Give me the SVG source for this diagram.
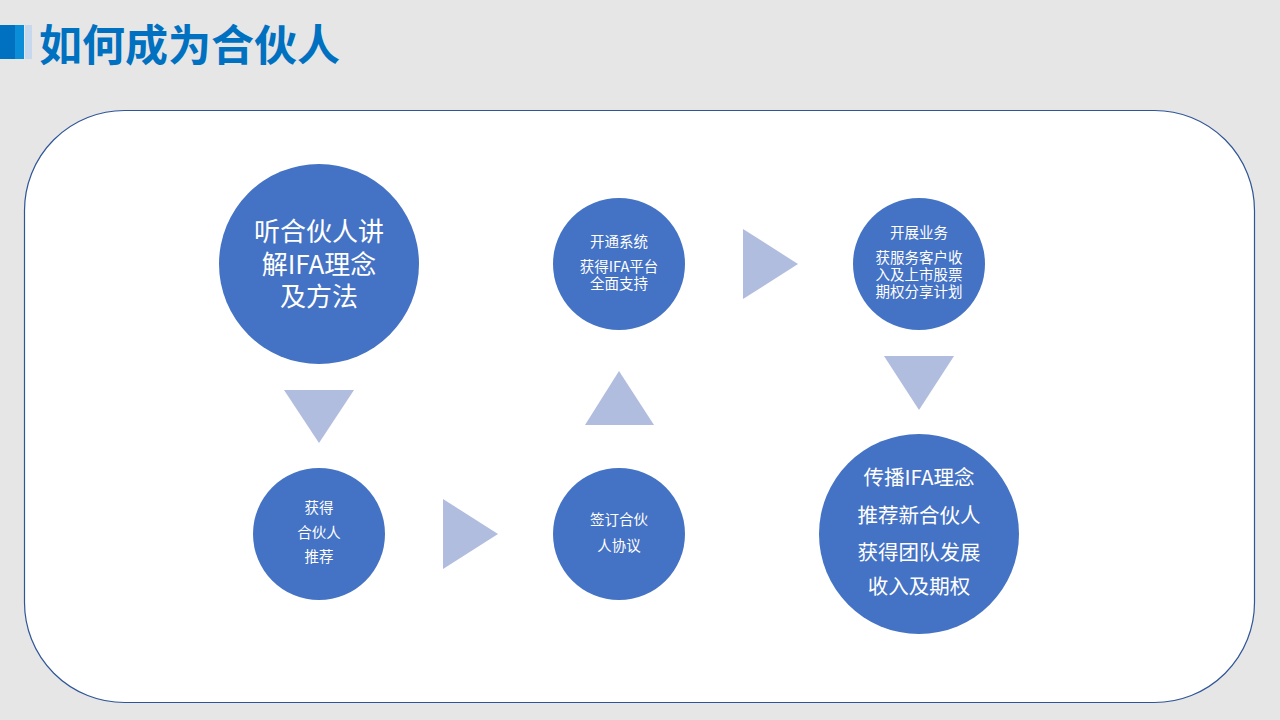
<svg xmlns="http://www.w3.org/2000/svg" width="1280" height="720" viewBox="0 0 1280 720">
<style>
.node circle{fill:#4472c4}
.node text{fill:#ffffff;font-family:"Noto Sans CJK SC","Noto Sans",sans-serif;text-anchor:middle}
.tri{fill:#b0bddf}
.t26{font-size:26px}
.t20{font-size:20.5px}
.t14{font-size:14.5px}
</style>
<rect x="0" y="0" width="1280" height="720" fill="#e6e6e6"/>
<g id="title">
<rect x="0" y="25" width="15" height="34" fill="#0070c0"/>
<rect x="15" y="25" width="9" height="34" fill="#0a8ed8"/>
<rect x="25" y="25" width="7" height="34" fill="#c5d8ee"/>
<text x="39" y="61" font-family="Noto Sans CJK SC,sans-serif" font-size="43" font-weight="bold" fill="#0070c0">如何成为合伙人</text>
</g>
<rect id="panel" x="24.5" y="110.5" width="1230" height="592" rx="100" ry="100" fill="#ffffff" stroke="#2f5597" stroke-width="1.2"/>
<g id="connectors">
<polygon class="tri" points="284,390 354,390 319,443"/>
<polygon class="tri" points="443,499 443,569 498,534"/>
<polygon class="tri" points="585,425 654,425 619,371"/>
<polygon class="tri" points="743,229 743,299 798,264"/>
<polygon class="tri" points="884,356 954,356 919,410"/>
</g>
<g id="n1" class="node">
<circle cx="319" cy="264" r="100"/>
<text class="t26" x="319" y="241">听合伙人讲</text>
<text class="t26" x="319" y="274">解IFA理念</text>
<text class="t26" x="319" y="306">及方法</text>
</g>
<g id="n2" class="node">
<circle cx="319" cy="534" r="66"/>
<text class="t14" x="319" y="513">获得</text>
<text class="t14" x="319" y="538">合伙人</text>
<text class="t14" x="319" y="562">推荐</text>
</g>
<g id="n3" class="node">
<circle cx="619" cy="534" r="66"/>
<text class="t14" x="619" y="525">签订合伙</text>
<text class="t14" x="619" y="551">人协议</text>
</g>
<g id="n4" class="node">
<circle cx="619" cy="264" r="66"/>
<text class="t14" x="619" y="247">开通系统</text>
<text class="t14" x="619" y="272">获得IFA平台</text>
<text class="t14" x="619" y="289">全面支持</text>
</g>
<g id="n5" class="node">
<circle cx="919" cy="264" r="66"/>
<text class="t14" x="919" y="238">开展业务</text>
<text class="t14" x="919" y="263">获服务客户收</text>
<text class="t14" x="919" y="280">入及上市股票</text>
<text class="t14" x="919" y="297">期权分享计划</text>
</g>
<g id="n6" class="node">
<circle cx="919" cy="534" r="100"/>
<text class="t20" x="919" y="485">传播IFA理念</text>
<text class="t20" x="919" y="523">推荐新合伙人</text>
<text class="t20" x="919" y="560">获得团队发展</text>
<text class="t20" x="919" y="594">收入及期权</text>
</g>
</svg>
